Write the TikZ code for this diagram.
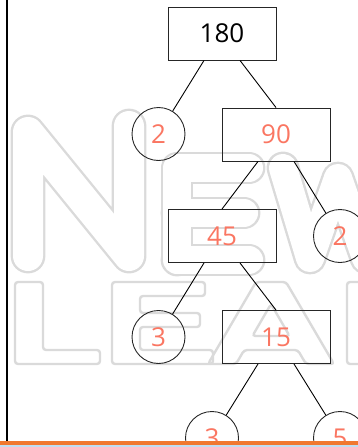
\documentclass[tikz,border=0pt]{standalone}
\usepackage{fontspec}
\setmainfont{Open Sans}
\definecolor{numcol}{RGB}{250,118,98}
\definecolor{wm}{RGB}{218,218,218}
\definecolor{barorange}{RGB}{240,120,48}
\definecolor{barblue}{RGB}{192,222,242}
\tikzset{
  wmline/.style={line width=2.4pt, draw=wm, double=white, double distance=28pt, line cap=round, line join=round},
  wmpoly/.style={line width=2.4pt, draw=wm, rounded corners=3pt},
  numbox/.style={draw=black!85, line width=0.9pt, minimum width=108pt, minimum height=53pt, inner sep=0pt, font=\fontsize{26}{30}\selectfont, text=numcol},
  numcirc/.style={draw=black!85, line width=0.9pt, circle, minimum size=53pt, inner sep=0pt, font=\fontsize{26}{30}\selectfont, text=numcol},
  edge/.style={line width=0.9pt, black}
}
\begin{document}
\begin{tikzpicture}[x=1pt,y=-1pt]
\useasboundingbox (0,0) rectangle (358,447);
\clip (0,0) rectangle (358,447);
% watermark, first row
\draw[wmline, double distance=30pt] (28,132) -- (28,256) (28,132) -- (129,256) (129,126) -- (129,256);
\draw[wmline] (177,260) -- (177,168) -- (249,168) (177,260) -- (249,260) (177,213) -- (244,213);
\draw[wmline] (283,168) -- (310,258) -- (338,178) -- (366,258) -- (394,168);
% watermark, second row
\draw[wmpoly] (15,282) -- (43,282) -- (43,350) -- (100,350) -- (100,364) -- (15,364) -- cycle;
\draw[wmpoly] (112,282) -- (205,282) -- (205,296) -- (140,296) -- (140,313) -- (200,313) -- (200,327) -- (140,327) -- (140,350) -- (213,350) -- (213,364) -- (112,364) -- cycle;
\draw[wmpoly] (208,364) -- (256,282) -- (286,282) -- (334,364) -- (306,364) -- (297.8,350) -- (244.2,350) -- (236,364) -- cycle;
\draw[wmpoly] (252.4,336) -- (271,304) -- (289.6,336) -- cycle;
\draw[wmpoly] (347,282) -- (380,282) -- (380,364) -- (347,364) -- cycle;
% left rule
\coordinate (lt) at (7,0);
\coordinate (lb) at (7,441);
\draw[line width=1.2pt, black] (lt) -- (lb);
% tree
\node[numbox, text=black] (b180) at (222,33.5) {180};
\node[numcirc] (c2a) at (158.5,134) {2};
\node[numbox] (b90) at (276,134.5) {90};
\node[numbox] (b45) at (222,236) {45};
\node[numcirc] (c2b) at (340,236) {2};
\node[numcirc] (c3a) at (158.5,337) {3};
\node[numbox] (b15) at (276,337) {15};
\node[numcirc] (c3b) at (212,438) {3};
\node[numcirc] (c5) at (340,438) {5};
\draw[edge] ([xshift=-18pt]b180.south) -- (c2a);
\draw[edge] ([xshift=18pt]b180.south) -- (b90.north);
\draw[edge] ([xshift=-18pt]b90.south) -- (b45.north);
\draw[edge] ([xshift=18pt]b90.south) -- (c2b);
\draw[edge] ([xshift=-18pt]b45.south) -- (c3a);
\draw[edge] ([xshift=18pt]b45.south) -- (b15.north);
\draw[edge] ([xshift=-18pt]b15.south) -- (c3b);
\draw[edge] ([xshift=18pt]b15.south) -- (c5);
% bottom bars
\fill[barorange] (0,440.7) rectangle (358,445);
\fill[barblue] (0,445) rectangle (358,447);
\end{tikzpicture}
\end{document}
